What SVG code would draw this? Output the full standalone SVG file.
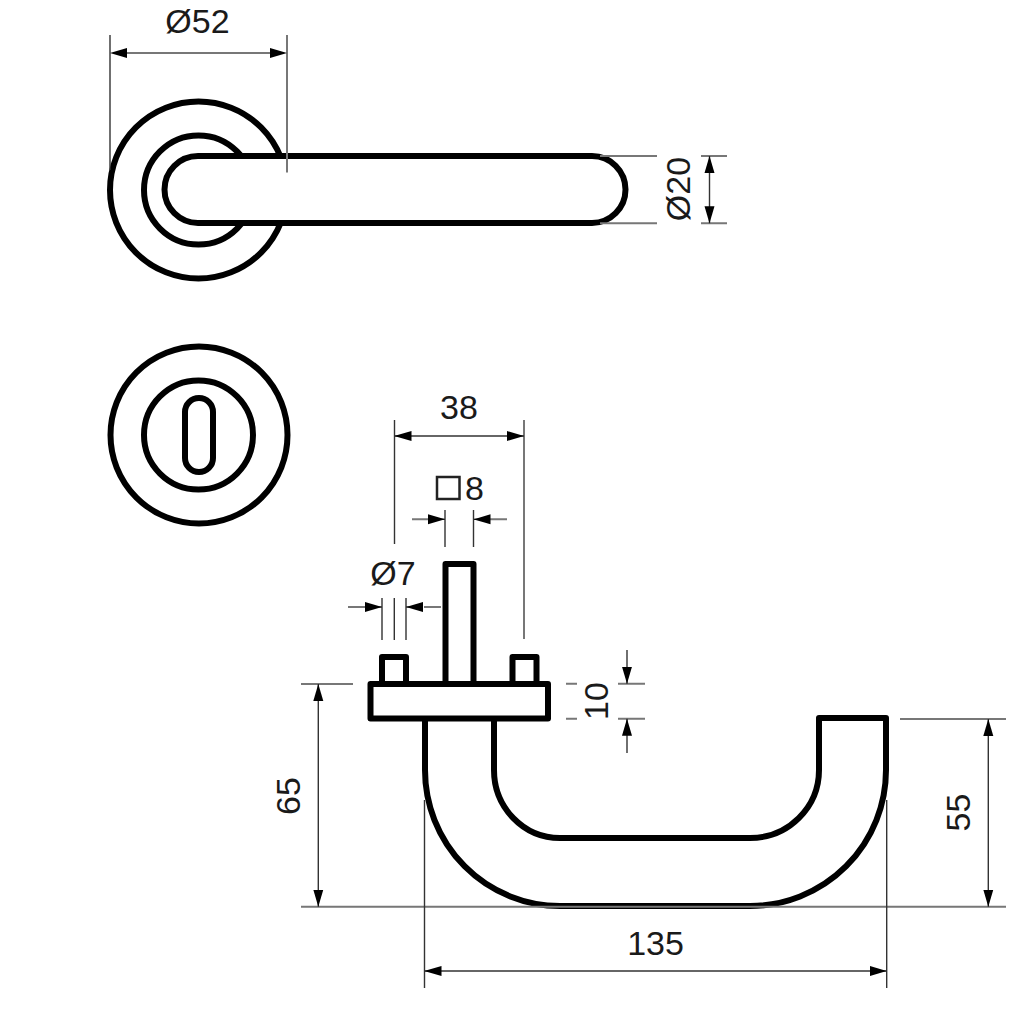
<svg xmlns="http://www.w3.org/2000/svg" width="1024" height="1024" viewBox="0 0 1024 1024">
<style>
.o{fill:none;stroke:#000;stroke-width:6;stroke-linejoin:round}
.w{fill:#fff;stroke:#000;stroke-width:6;stroke-linejoin:round}
.d{fill:none;stroke:#333;stroke-width:1.4}
.e{fill:none;stroke:#777;stroke-width:2}
text{font-family:"Liberation Sans",Arial,sans-serif;font-size:34px;fill:#1a1a1a;text-anchor:middle}
</style>
<defs>
<marker id="a" viewBox="0 0 17 11" refX="17" refY="5.500" markerWidth="17" markerHeight="11" markerUnits="userSpaceOnUse" orient="auto-start-reverse"><path d="M0 0.500L17 5.500L0 10.500Z" fill="#000"/></marker>
</defs>
<rect width="1024" height="1024" fill="#fff"/>
<g id="lever-top">
<circle class="o" cx="198.500" cy="190" r="88.500"/>
<circle class="o" cx="198.500" cy="190" r="54.500"/>
<path class="w" d="M198 156H592A33.500 33.500 0 0 1 592 223H198A33.500 33.500 0 0 1 198 156Z"/>
</g>
<g id="rosette">
<circle class="o" cx="199" cy="435" r="88.500"/>
<circle class="o" cx="198.500" cy="435" r="54.500"/>
<rect class="o" x="185" y="398" width="28" height="74" rx="14"/>
</g>
<g id="lever-side">
<path class="o" d="M425 718V770A135 136 0 0 0 560 906H750A136 136 0 0 0 886 770V718H819V770A69 68 0 0 1 750 838H560A66 68 0 0 1 494 770V718"/>
<rect class="o" x="370.500" y="684" width="177.500" height="34.500"/>
<rect class="o" x="382" y="657" width="24" height="27"/>
<rect class="o" x="512.500" y="657" width="24" height="27"/>
<rect class="o" x="445.500" y="564" width="28" height="120"/>
<path d="M433 682H486" stroke="#000" stroke-width="2" fill="none"/>
</g>
<g id="connectors">
<path class="d" d="M110 35V170"/>
<path class="e" d="M287 35V172.500"/>
<path class="e" d="M126 53H271"/>
<path class="d" d="M110 53H287" marker-start="url(#a)" marker-end="url(#a)" stroke-opacity="0"/>
<path class="e" d="M600 156H657M600 223.300H657M701 156H727M701 223.300H727"/>
<path class="d" d="M709.500 156V223.300" marker-start="url(#a)" marker-end="url(#a)"/>
<path class="d" d="M394.500 420V544"/>
<path class="e" d="M524 420V639"/>
<path class="d" d="M394.500 436H524" marker-start="url(#a)" marker-end="url(#a)"/>
<path class="d" d="M445 510V547M473.500 510V547"/>
<path class="e" d="M412 519.300H428M490 519.300H507"/>
<path class="d" d="M428 519.300H445" marker-end="url(#a)"/>
<path class="d" d="M490 519.300H473.500" marker-end="url(#a)"/>
<path class="d" d="M382 598V640M394.300 598V640M406 598V640"/>
<path class="e" d="M348 607H365M424 607H441"/>
<path class="d" d="M365 607H382" marker-end="url(#a)"/>
<path class="d" d="M423 607H406" marker-end="url(#a)"/>
<path class="e" d="M566 683.700H577M566 718.700H577M618 683.700H645M618 718.700H645"/>
<path class="d" d="M627 650V683.700" marker-end="url(#a)"/>
<path class="d" d="M627 753V718.700" marker-end="url(#a)"/>
<path class="e" d="M301 684H353M301 906.700H1006M900 719H1006"/>
<path class="d" d="M318.300 684V906.700" marker-start="url(#a)" marker-end="url(#a)"/>
<path class="d" d="M988.300 719V906.700" marker-start="url(#a)" marker-end="url(#a)"/>
<path class="d" d="M424.500 800V988M886.700 800V988"/>
<path class="d" d="M424.500 971H886.700" marker-start="url(#a)" marker-end="url(#a)"/>
</g>
<g id="labels">
<text x="197.500" y="33">Ø52</text>
<text transform="translate(690 189) rotate(-90)">Ø20</text>
<text x="459" y="419">38</text>
<rect x="437" y="477" width="22.500" height="22" fill="none" stroke="#222" stroke-width="2.500"/>
<text x="474.500" y="500">8</text>
<text x="393" y="585">Ø7</text>
<text transform="translate(608 701) rotate(-90)">10</text>
<text transform="translate(300 796) rotate(-90)">65</text>
<text transform="translate(970 812.500) rotate(-90)">55</text>
<text x="655.500" y="955">135</text>
</g>
</svg>
